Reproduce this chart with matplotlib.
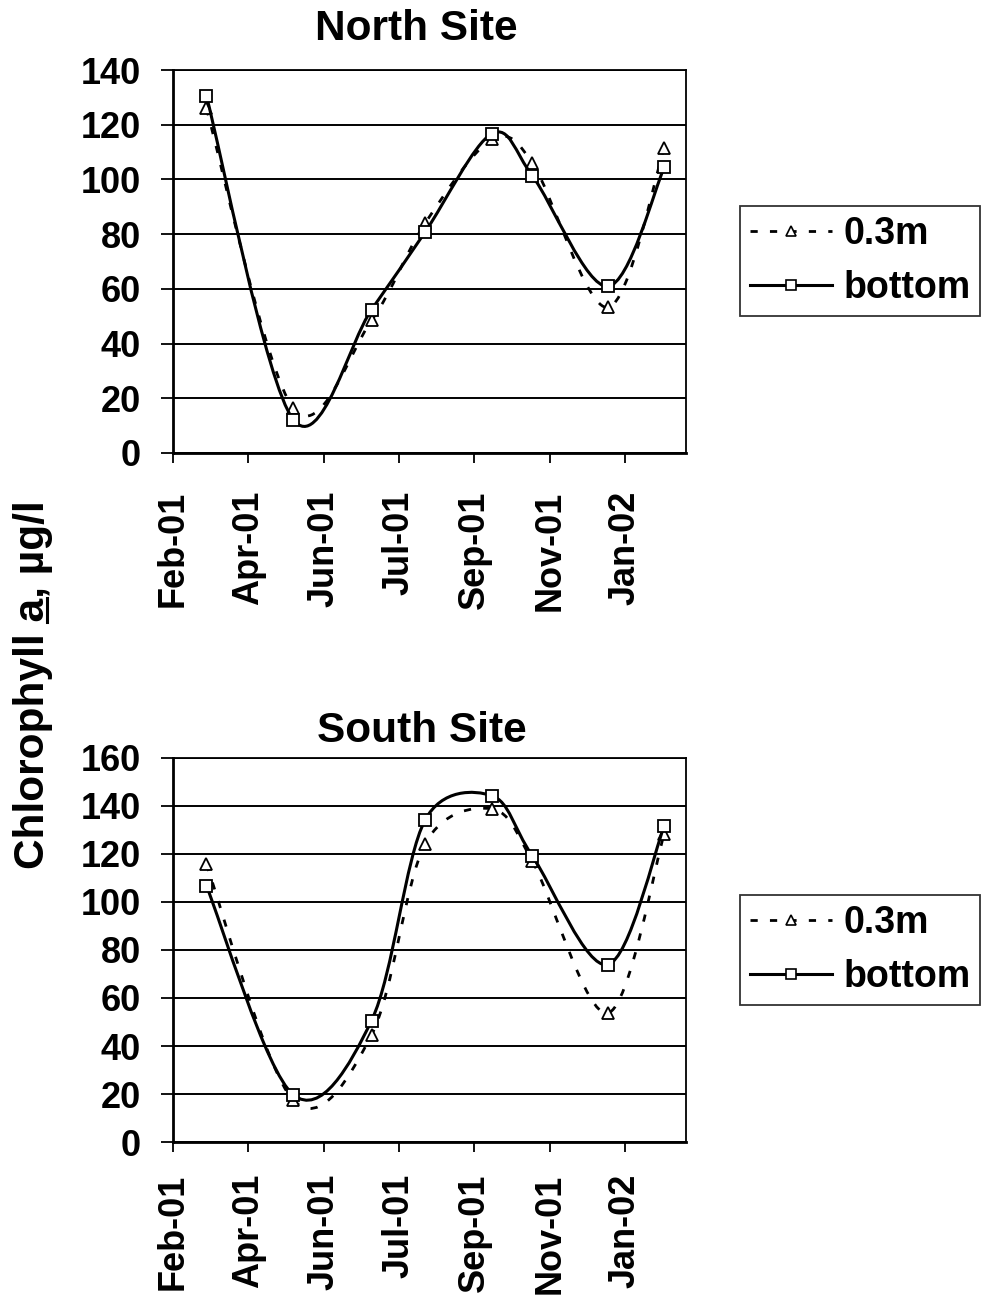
import numpy as np
import matplotlib
matplotlib.use("Agg")
import matplotlib.pyplot as plt
import matplotlib.dates as mdates
from matplotlib.path import Path
from matplotlib.patches import PathPatch
from matplotlib.lines import Line2D
from matplotlib.font_manager import FontProperties
from datetime import datetime

plt.rcParams['font.family'] = ['Liberation Sans', 'DejaVu Sans']
plt.rcParams['font.weight'] = 'bold'

# sampling dates (same for both sites)
dates = ["2001-03-19", "2001-05-18", "2001-07-11", "2001-08-17",
         "2001-10-02", "2001-10-30", "2001-12-21", "2002-01-29"]

north_03 = [126, 16.4, 48.5, 84, 114.7, 106, 53.2, 111.4]
north_bottom = [130.6, 12.2, 52.4, 80.8, 116.7, 101.3, 60.9, 104.4]

south_03 = [115.8, 17.4, 44.6, 124.2, 138.8, 117, 53.7, 128.4]
south_bottom = [106.8, 19.7, 50.6, 134.2, 144.3, 119.2, 73.9, 131.7]

series_labels = ["0.3m", "bottom"]
titles = ["North Site", "South Site"]
ymax = [140, 160]

x = mdates.date2num([datetime.strptime(d, "%Y-%m-%d") for d in dates])
tick0 = mdates.date2num(datetime(2001, 2, 24))
ticks = tick0 + 52 * np.arange(7)


def smooth_path(ax, xs, ys):
    # Excel-style smoothed line, worked out in screen space
    pts = ax.transData.transform(np.column_stack([xs, ys]))
    P = np.vstack([pts[0], pts, pts[-1]])
    verts = [pts[0]]
    codes = [Path.MOVETO]
    for i in range(len(pts) - 1):
        p0, p1, p2, p3 = P[i], P[i + 1], P[i + 2], P[i + 3]
        d12 = np.hypot(*(p2 - p1))
        d02 = np.hypot(*(p2 - p0))
        d13 = np.hypot(*(p3 - p1))
        f0 = 1 / 6 if d02 / 6 < d12 / 2 else d12 / 2 / d02
        f1 = 1 / 6 if d13 / 6 < d12 / 2 else d12 / 2 / d13
        verts += [p1 + f0 * (p2 - p0), p2 - f1 * (p3 - p1), p2]
        codes += [Path.CURVE4] * 3
    verts = ax.transData.inverted().transform(np.array(verts))
    return Path(verts, codes)


fig = plt.figure(figsize=(9.81, 13.1), dpi=100)
ax_n = fig.add_axes([173 / 981, 1 - 453 / 1310, 513 / 981, 383 / 1310])
ax_s = fig.add_axes([173 / 981, 1 - 1142 / 1310, 513 / 981, 384 / 1310])

dash = (0, (2.6, 4.4))
data = [(north_03, north_bottom), (south_03, south_bottom)]
title_pads = [21.6, 11.5]
title_x = [0.474, 0.485]
legend_y = [1 - 261 / 1310, 1 - 950 / 1310]
xpads = [20, 16]

for k, ax in enumerate([ax_n, ax_s]):
    top, bot = data[k]
    ax.set_xlim(ticks[0], ticks[0] + 354)
    ax.set_ylim(0, ymax[k])

    ax.add_patch(PathPatch(smooth_path(ax, x, top), fill=False, color='k',
                           lw=2.0, linestyle=dash, zorder=3))
    ax.plot(x, top, ls='none', marker='^', ms=8.5, mfc='white', mec='k',
            mew=1.3, zorder=4)
    ax.add_patch(PathPatch(smooth_path(ax, x, bot), fill=False, color='k',
                           lw=2.2, zorder=5))
    ax.plot(x, bot, ls='none', marker='s', ms=8.3, mfc='white', mec='k',
            mew=1.3, zorder=6)

    ax.set_xlim(ticks[0], ticks[0] + 354)
    ax.set_ylim(0, ymax[k])
    ax.set_xticks(ticks)
    ax.xaxis.set_major_formatter(mdates.DateFormatter('%b-%y'))
    ax.set_yticks(np.arange(0, ymax[k] + 1, 20))
    ax.yaxis.grid(True, color='k', lw=1.4)
    ax.set_axisbelow(True)
    ax.tick_params(axis='y', direction='out', length=9, width=1.3,
                   labelsize=26, pad=14)
    ax.tick_params(axis='x', direction='out', length=7, width=1.3,
                   labelsize=26, labelrotation=90, pad=xpads[k])
    for lab in ax.get_xticklabels() + ax.get_yticklabels():
        lab.set_fontweight('bold')
    for s in ['left', 'bottom']:
        ax.spines[s].set_linewidth(2.0)
    for s in ['top', 'right']:
        ax.spines[s].set_linewidth(1.3)

    ax.set_title(titles[k], fontsize=30.5, fontweight='bold',
                 pad=title_pads[k], x=title_x[k])

    handles = [
        Line2D([], [], color='k', lw=2.0, dashes=(2.6, 4.4), marker='^',
               ms=7, mfc='white', mec='k', mew=1.2),
        Line2D([], [], color='k', lw=2.2, marker='s', ms=7, mfc='white',
               mec='k', mew=1.2),
    ]
    leg = fig.legend(handles, series_labels, loc='center',
                     bbox_to_anchor=(860 / 981, legend_y[k]),
                     prop={'size': 27, 'weight': 'bold'}, frameon=True,
                     fancybox=False, edgecolor='k', handlelength=2.2,
                     handletextpad=0.3, borderpad=0.25, labelspacing=0.5,
                     borderaxespad=0)
    leg.get_frame().set_linewidth(1.3)

# y label with underlined "a"
ylab_text = "Chlorophyll a, \u00b5g/l"
fp = FontProperties(family=['Liberation Sans', 'DejaVu Sans'],
                    weight='bold', size=30.5)
ylab = fig.text(33 / 981, 1 - 685 / 1310, ylab_text, rotation=90,
                ha='center', va='center', fontproperties=fp)
fig.canvas.draw()
renderer = fig.canvas.get_renderer()
bb = ylab.get_window_extent(renderer)
w_pre, _, _ = renderer.get_text_width_height_descent("Chlorophyll a", fp, False)
w_a, _, _ = renderer.get_text_width_height_descent("a", fp, False)
_, _, desc = renderer.get_text_width_height_descent(ylab_text, fp, False)
ux = bb.x1 - desc + 3
fig.add_artist(Line2D([ux, ux], [bb.y0 + w_pre - w_a, bb.y0 + w_pre],
                      color='k', lw=2.2, transform=None))

fig.savefig("out.png", dpi=100)
